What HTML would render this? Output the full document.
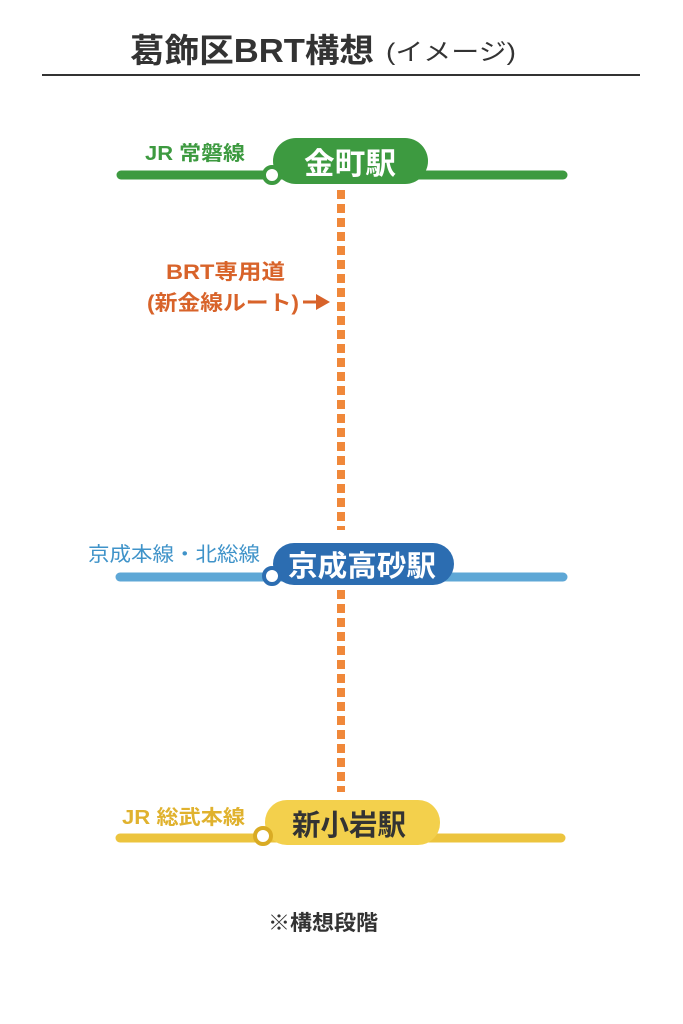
<!DOCTYPE html>
<html><head><meta charset="utf-8"><style>
html,body{margin:0;padding:0;background:#fff;}
svg{display:block;}
text{font-family:"Liberation Sans","Noto Sans CJK JP",sans-serif;}
</style></head><body>
<svg width="683" height="1024" viewBox="0 0 683 1024" xmlns="http://www.w3.org/2000/svg">
<rect width="683" height="1024" fill="#fff"/>
<!-- title -->
<text x="130" y="62" font-size="33" font-weight="bold" fill="#333" textLength="244" lengthAdjust="spacingAndGlyphs">葛飾区BRT構想</text>
<text x="386" y="60" font-size="24" fill="#333" textLength="130" lengthAdjust="spacingAndGlyphs">(イメージ)</text>
<rect x="42" y="74" width="598" height="2" fill="#333"/>

<!-- dotted BRT -->
<line x1="341" y1="190" x2="341" y2="530" stroke="#f0883a" stroke-width="8" stroke-dasharray="9 5"/>
<line x1="341" y1="590" x2="341" y2="792" stroke="#f0883a" stroke-width="8" stroke-dasharray="9 5"/>

<!-- green line -->
<line x1="121" y1="175" x2="563" y2="175" stroke="#3d9a40" stroke-width="9" stroke-linecap="round"/>
<rect x="273" y="138" width="155" height="46" rx="23" fill="#3d9a40"/>
<circle cx="272" cy="175" r="8" fill="#fff" stroke="#3d9a40" stroke-width="4"/>
<text x="304" y="174" font-size="30" font-weight="bold" fill="#fff" textLength="92" lengthAdjust="spacingAndGlyphs">金町駅</text>
<text x="145" y="160" font-size="20" font-weight="bold" fill="#3d9a40" textLength="100" lengthAdjust="spacingAndGlyphs">JR 常磐線</text>

<!-- BRT label -->
<text x="166" y="279" font-size="21" font-weight="bold" fill="#d8632a" textLength="119" lengthAdjust="spacingAndGlyphs">BRT専用道</text>
<text x="147" y="310" font-size="21" font-weight="bold" fill="#d8632a" textLength="152" lengthAdjust="spacingAndGlyphs">(新金線ルート)</text>
<line x1="303" y1="302" x2="320" y2="302" stroke="#d8632a" stroke-width="3"/>
<polygon points="316,294 330,302 316,310" fill="#d8632a"/>

<!-- blue line -->
<line x1="120" y1="577" x2="563" y2="577" stroke="#5ea7d6" stroke-width="9" stroke-linecap="round"/>
<rect x="273" y="543" width="181" height="42" rx="21" fill="#2c6db1"/>
<circle cx="272" cy="576" r="8" fill="#fff" stroke="#2c6db1" stroke-width="4"/>
<text x="288" y="576" font-size="29" font-weight="bold" fill="#fff" textLength="148" lengthAdjust="spacingAndGlyphs">京成高砂駅</text>
<text x="88" y="561" font-size="20" fill="#3f93c9" textLength="172" lengthAdjust="spacingAndGlyphs">京成本線・北総線</text>

<!-- yellow line -->
<line x1="120" y1="838" x2="561" y2="838" stroke="#ecc43e" stroke-width="9" stroke-linecap="round"/>
<rect x="265" y="800" width="175" height="45" rx="22" fill="#f3d04c"/>
<circle cx="263" cy="836" r="8" fill="#fff" stroke="#d9ab24" stroke-width="4"/>
<text x="292" y="835" font-size="29" font-weight="bold" fill="#333" textLength="114" lengthAdjust="spacingAndGlyphs">新小岩駅</text>
<text x="122" y="824" font-size="20" font-weight="bold" fill="#e0b22e" textLength="123" lengthAdjust="spacingAndGlyphs">JR 総武本線</text>

<!-- note -->
<text x="268" y="930" font-size="21" font-weight="bold" fill="#333" textLength="110" lengthAdjust="spacingAndGlyphs">※構想段階</text>
</svg>
</body></html>
